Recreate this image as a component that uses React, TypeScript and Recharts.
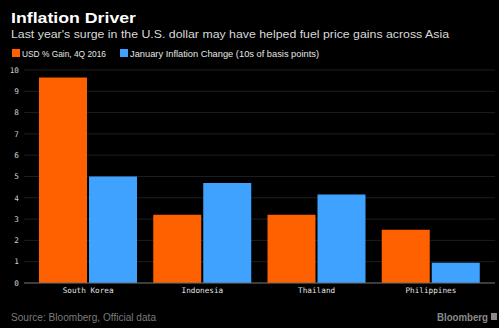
import React from "react";
import { BarChart, Bar, XAxis, YAxis, CartesianGrid } from "recharts";

const countries = ["South Korea", "Indonesia", "Thailand", "Philippines"];
const usdGain = [9.65, 3.2, 3.2, 2.5];
const inflationChange = [5.0, 4.7, 4.15, 0.95];
const yTicks = [0, 1, 2, 3, 4, 5, 6, 7, 8, 9, 10];

const SERIES = [
  { key: "usd", name: "USD % Gain, 4Q 2016", color: "#ff6000", len: 84 },
  { key: "infl", name: "January Inflation Change (10s of basis points)", color: "#3fa2ff", len: 189 },
];

const data = countries.map((c, i) => ({ country: c, usd: usdGain[i], infl: inflationChange[i] }));

const MONO = "'DejaVu Sans Mono', monospace";
const SANS = "'Liberation Sans', Arial, sans-serif";

export default function App() {
  return (
    <div style={{ position: "absolute", left: 0, top: 0, width: 499, height: 328, background: "#000", overflow: "hidden" }}>
      <svg width={499} height={62} style={{ position: "absolute", left: 0, top: 0 }}>
        <text x={11} y={22.5} fill="#ffffff" fontSize={15} fontWeight="bold" fontFamily={SANS} textLength={125} lengthAdjust="spacingAndGlyphs">
          Inflation Driver
        </text>
        <text x={11} y={38} fill="#d8d8d8" fontSize={11.5} fontFamily={SANS} textLength={438} lengthAdjust="spacingAndGlyphs">
          Last year's surge in the U.S. dollar may have helped fuel price gains across Asia
        </text>
        <rect x={12} y={49} width={8} height={8} fill={SERIES[0].color} />
        <text x={22} y={56.5} fill="#e6e6e6" fontSize={9} fontFamily={SANS} textLength={SERIES[0].len} lengthAdjust="spacingAndGlyphs">
          {SERIES[0].name}
        </text>
        <rect x={120} y={49} width={8} height={8} fill={SERIES[1].color} />
        <text x={130} y={56.5} fill="#e6e6e6" fontSize={9} fontFamily={SANS} textLength={SERIES[1].len} lengthAdjust="spacingAndGlyphs">
          {SERIES[1].name}
        </text>
      </svg>
      <BarChart
        width={499}
        height={328}
        data={data}
        margin={{ top: 70, right: 4, left: 0, bottom: 25 }}
        barCategoryGap={8}
        barGap={2}
        style={{ position: "absolute", left: 0, top: 0 }}
      >
        <CartesianGrid vertical={false} stroke="#1e1e1e" />
        <XAxis
          dataKey="country"
          padding={{ left: 7, right: 7 }}
          tickLine={false}
          tickSize={0}
          tickMargin={5}
          axisLine={{ stroke: "#6a6a6a" }}
          tick={{ fill: "#e0e0e0", fontSize: 7.7, fontFamily: MONO }}
          height={20}
          interval={0}
        />
        <YAxis
          domain={[0, 10]}
          ticks={yTicks}
          width={24}
          axisLine={false}
          tickLine={false}
          tickSize={0}
          tickMargin={5}
          tick={{ fill: "#d0d0d0", fontSize: 7.7, fontFamily: MONO }}
          interval={0}
        />
        <Bar dataKey="usd" name={SERIES[0].name} fill={SERIES[0].color} isAnimationActive={false} />
        <Bar dataKey="infl" name={SERIES[1].name} fill={SERIES[1].color} isAnimationActive={false} />
      </BarChart>
      <svg width={499} height={30} style={{ position: "absolute", left: 0, top: 298 }}>
        <text x={11} y={23} fill="#7a7a7a" fontSize={10} fontFamily={SANS} textLength={145} lengthAdjust="spacingAndGlyphs">
          Source: Bloomberg, Official data
        </text>
        <text x={437} y={23} fill="#8a8a8a" fontSize={10} fontWeight="bold" fontFamily={SANS} textLength={51} lengthAdjust="spacingAndGlyphs">
          Bloomberg
        </text>
        <rect x={491} y={15} width={6} height={7} fill="#8a8a8a" />
      </svg>
    </div>
  );
}
